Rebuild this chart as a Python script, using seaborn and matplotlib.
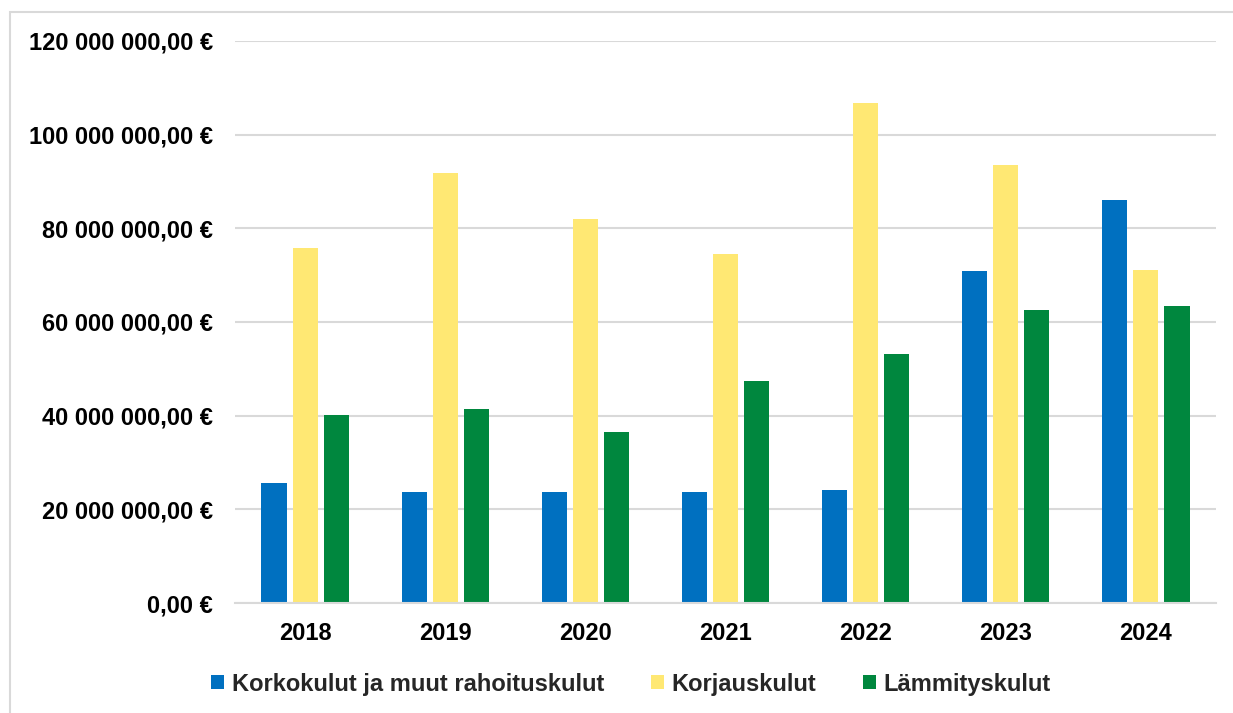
import matplotlib
matplotlib.use("Agg")
import matplotlib.pyplot as plt
import seaborn as sns
import pandas as pd
from matplotlib.patches import Rectangle, Patch
from matplotlib.ticker import FuncFormatter, MultipleLocator

years = ["2018", "2019", "2020", "2021", "2022", "2023", "2024"]
series_names = ["Korkokulut ja muut rahoituskulut", "Korjauskulut", "Lämmityskulut"]
korko = [25.7e6, 23.6e6, 23.8e6, 23.6e6, 24.2e6, 70.8e6, 86.0e6]
korjaus = [75.7e6, 91.9e6, 81.9e6, 74.6e6, 106.8e6, 93.6e6, 71.2e6]
lammitys = [40.2e6, 41.5e6, 36.6e6, 47.3e6, 53.1e6, 62.5e6, 63.5e6]
colors = ["#0070C0", "#FFE873", "#00873E"]

rows = []
for name, vals in zip(series_names, [korko, korjaus, lammitys]):
    for y, v in zip(years, vals):
        rows.append({"Vuosi": y, "Sarja": name, "Arvo": v})
df = pd.DataFrame(rows)

sns.set_theme(style="white")
plt.rcParams["font.family"] = ["Liberation Sans", "DejaVu Sans"]
plt.rcParams["font.weight"] = "bold"

fig = plt.figure(figsize=(12.33, 7.13), dpi=100)
ax = fig.add_axes([235/1233, 1-603/713, (1216-235)/1233, (603-41)/713])

sns.barplot(data=df, x="Vuosi", y="Arvo", hue="Sarja", palette=colors,
            width=0.664, gap=0.19, ax=ax, legend=False, saturation=1, linewidth=0)

ax.set_ylim(0, 120e6)
ax.yaxis.set_major_locator(MultipleLocator(20e6))

def fmt(v, pos):
    s = f"{v:,.2f}".replace(",", " ").replace(".", ",")
    return s + " €"
ax.yaxis.set_major_formatter(FuncFormatter(fmt))

ax.grid(axis="y", color="#D9D9D9", linewidth=1.5)
ax.set_axisbelow(True)
for s in ["top", "right", "left"]:
    ax.spines[s].set_visible(False)
ax.spines["bottom"].set_color("#D9D9D9")
ax.spines["bottom"].set_linewidth(1.5)
ax.set_xlabel("")
ax.set_ylabel("")
ax.tick_params(axis="y", length=0, pad=16, labelsize=17)
ax.tick_params(axis="x", length=0, pad=14, labelsize=17)
for lab in ax.get_xticklabels() + ax.get_yticklabels():
    lab.set_fontweight("bold")
    lab.set_color("black")

handles = [Patch(facecolor=c, edgecolor="none", label=n) for c, n in zip(colors, series_names)]
leg = fig.legend(handles=handles, loc="center", bbox_to_anchor=(631/1233, 1-684/713),
                 ncol=3, frameon=False, fontsize=17, handlelength=0.55, handleheight=0.55,
                 handletextpad=0.3, columnspacing=2.0)
for t in leg.get_texts():
    t.set_fontweight("bold")

fig.patches.append(Rectangle((10/1233, -0.1), 1.2, 1-12/713+0.1, transform=fig.transFigure,
                             fill=False, edgecolor="#D9D9D9", linewidth=1.5, zorder=0))

fig.savefig("out.png", dpi=100)
